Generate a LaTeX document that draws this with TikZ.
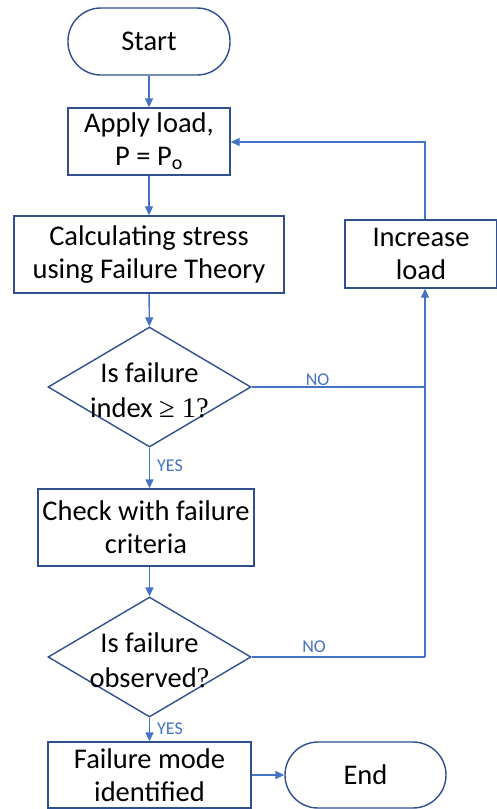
\documentclass[tikz,border=0pt]{standalone}
\usepackage{fontspec}
\setmainfont{Carlito}
\newfontfamily\serifsym{Liberation Serif}
\usetikzlibrary{arrows.meta,shapes.geometric}
\definecolor{edgeblue}{HTML}{2F4F8F}
\definecolor{arrowblue}{HTML}{4472C4}
\tikzset{
  box/.style={draw=edgeblue,line width=1.4pt,fill=white,inner sep=0pt,align=center,font=\fontsize{28.5}{33}\selectfont},
  term/.style={box,rounded corners=33pt},
  dia/.style={draw=edgeblue,line width=1.4pt,diamond,aspect=1.69,inner sep=0pt,minimum width=203pt,minimum height=120pt},
  ttext/.style={align=center,font=\fontsize{28.5}{35}\selectfont},
  conn/.style={draw=arrowblue,line width=1.4pt},
  arr/.style={conn,-{Triangle[length=9pt,width=8pt]}},
  lab/.style={text=arrowblue,font=\fontsize{18}{20}\selectfont,inner sep=1pt}
}
\begin{document}
\begin{tikzpicture}[x=1pt,y=-1pt]
\useasboundingbox (0,0) rectangle (497,809);
\node[term,minimum width=162pt,minimum height=67pt] (start) at (149,41.5) {Start};
\node[box,minimum width=162pt,minimum height=67pt] (apply) at (149,141.5) {Apply load,\\P = P\textsubscript{o}};
\node[box,minimum width=270pt,minimum height=77pt] (calc) at (149,254.5) {Calculating stress\\using Failure Theory};
\node[dia] (d1) at (149.5,387) {};
\node[ttext] (d1t) at (149.5,390) {Is failure\\index {\serifsym ≥ 1?}};
\node[box,minimum width=216pt,minimum height=77pt] (check) at (146,527.5) {Check with failure\\criteria};
\node[dia] (d2) at (149.5,657) {};
\node[ttext] (d2t) at (149.5,660) {Is failure\\observed{\serifsym ?}};
\node[box,minimum width=203pt,minimum height=66pt] (fail) at (149.5,775) {Failure mode\\identified};
\node[term,minimum width=161pt,minimum height=66pt] (end) at (365.5,775) {End};
\node[box,minimum width=152pt,minimum height=68pt] (inc) at (421,254) {Increase\\load};
\coordinate (j1) at (425,387);
\coordinate (j2) at (425,657);
\coordinate (top) at (425,142);
\draw[arr] (start) -- (apply);
\draw[arr] (apply) -- (calc);
\draw[arr] (calc) -- (d1);
\draw[arr] (d1) -- node[lab,right,pos=0.45,xshift=6pt] {YES} (check.north -| d1);
\draw[arr] (check.south -| d1) -- (d2);
\draw[arr] (d2) -- node[lab,right,pos=0.45,xshift=6pt] {YES} (fail.north -| d2);
\draw[arr] (fail) -- (end);
\draw[conn] (d1.east) -- node[lab,above,pos=0.38] {NO} (j1);
\draw[conn] (d2.east) -- node[lab,above,pos=0.36,yshift=3pt] {NO} (j2);
\draw[arr] (j2) -- (inc.south -| j2);
\draw[arr] (inc.north -| top) -- (top) -- (apply.east |- top);
\end{tikzpicture}
\end{document}
